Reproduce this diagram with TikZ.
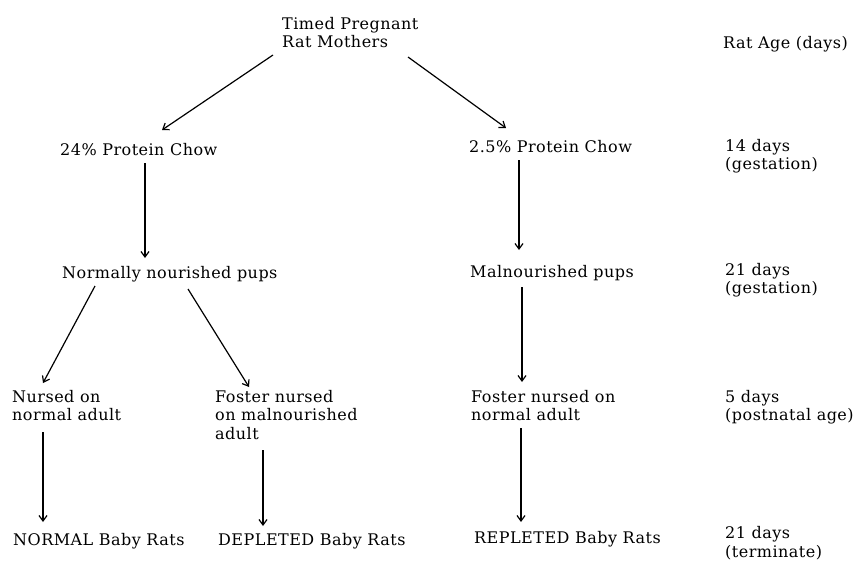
\documentclass[tikz,border=0pt]{standalone}
\usepackage{fontspec}
\setmainfont{DejaVu Serif}[LetterSpace=3]
\usetikzlibrary{arrows.meta,calc}

\tikzset{
  label text/.style={anchor=north west, inner sep=0pt, align=left, font=\fontsize{16}{18.5}\selectfont},
  flow/.style={line width=1.2pt, -{Straight Barb[length=5.5pt,width=8pt,line width=1.2pt]}}
}

\begin{document}
\begin{tikzpicture}[x=1pt,y=-1pt]
        \useasboundingbox (0,0) rectangle (859,562);

        % tree of diets
        \node[label text] (mothers) at (282,17) {Timed Pregnant\\Rat Mothers};
        \node[label text] (highchow) at (60,143) {24\% Protein Chow};
        \node[label text] (lowchow) at (469,140) {2.5\% Protein Chow};
        \node[label text] (normalpups) at (62,266) {Normally nourished pups};
        \node[label text] (malpups) at (470,265) {Malnourished pups};
        \node[label text] (nursed) at (12,390) {Nursed on\\normal adult};
        \node[label text] (foster) at (215,390) {Foster nursed\\on malnourished\\adult};
        \node[label text] (fosterlow) at (471,390) {Foster nursed on\\normal adult};
        \node[label text] (normalrats) at (13,533) {NORMAL Baby Rats};
        \node[label text] (depleted) at (218,533) {DEPLETED Baby Rats};
        \node[label text] (repleted) at (474,531) {REPLETED Baby Rats};

        % age column
        \node[label text] (age) at (723,36) {Rat Age (days)};
        \node[label text] (day14) at (725,139) {14 days\\(gestation)};
        \node[label text] (day21) at (725,263) {21 days\\(gestation)};
        \node[label text] (day5) at (725,390) {5 days\\(postnatal age)};
        \node[label text] (dayend) at (725,526.5) {21 days\\(terminate)};

        % arrows
        \draw[flow] ($(mothers.north west)+(-9,38)$) -- ($(highchow.north west)+(102,-13)$);
        \draw[flow] ($(mothers.north west)+(126,40)$) -- ($(lowchow.north west)+(37,-12)$);
        \draw[flow] ($(highchow.north west)+(85,20)$) -- ($(normalpups.north west)+(83,-8)$);
        \draw[flow] ($(lowchow.north west)+(50,20)$) -- ($(malpups.north west)+(49,-15)$);
        \draw[flow] ($(normalpups.north west)+(33,20)$) -- ($(nursed.north west)+(31,-7)$);
        \draw[flow] ($(normalpups.north west)+(126,23)$) -- ($(foster.north west)+(34,-3)$);
        \draw[flow] ($(malpups.north west)+(52,22)$) -- ($(fosterlow.north west)+(51,-8)$);
        \draw[flow] ($(nursed.north west)+(31,42)$) -- ($(normalrats.north west)+(30,-11)$);
        \draw[flow] ($(foster.north west)+(48,60)$) -- ($(depleted.north west)+(45,-7)$);
        \draw[flow] ($(fosterlow.north west)+(50,38)$) -- ($(repleted.north west)+(47,-9)$);
\end{tikzpicture}
\end{document}
